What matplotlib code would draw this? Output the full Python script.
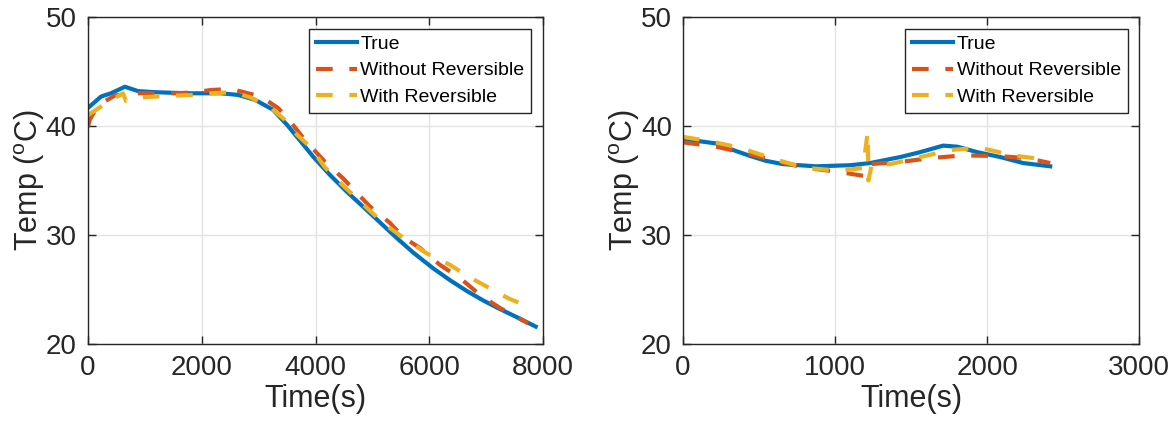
import numpy as np
import matplotlib.pyplot as plt

plt.rcParams['font.family'] = ['Liberation Sans', 'DejaVu Sans']
plt.rcParams['mathtext.fontset'] = 'custom'
plt.rcParams['mathtext.rm'] = 'Liberation Sans'

# left panel: long discharge
t1_true = [0, 230, 404, 650, 880, 1178, 1758, 2338, 2637, 2936, 3250, 3500, 3675, 3956, 4255, 4554,
           4835, 5134, 5433, 5714, 6066, 6365, 6664, 6945, 7244, 7543, 7870]
T1_true = [41.65, 42.7, 43.0, 43.6, 43.2, 43.1, 43.0, 43.0, 42.85, 42.4, 41.5, 40.1, 39.0, 37.2, 35.5, 33.95,
           32.6, 31.15, 29.7, 28.4, 26.95, 25.85, 24.85, 24.0, 23.2, 22.45, 21.6]
t1_wo = [0, 30, 176, 475, 880, 1230, 1580, 1880, 2163, 2514, 2813, 3042, 3340, 3499, 3800, 4167, 4483,
         4958, 5310, 5539, 5838, 6189, 6540, 6892, 7244, 7736]
T1_wo = [39.9, 40.55, 41.9, 42.8, 43.0, 43.0, 43.0, 43.1, 43.3, 43.4, 43.0, 42.7, 41.65, 40.8, 38.8, 36.7, 35.2,
         32.6, 31.1, 29.8, 28.8, 27.25, 26.05, 24.5, 23.3, 21.9]
t1_w = [0, 352, 615, 668, 1002, 1406, 1811, 2163, 2549, 2866, 3217, 3463, 3675, 3903, 4167, 4431, 4818,
        5187, 5609, 5960, 6365, 6716, 7068, 7385, 7807]
T1_w = [41.0, 42.2, 43.0, 42.3, 42.65, 42.75, 42.85, 43.0, 43.1, 42.6, 41.65, 40.55, 39.2, 38.1, 36.2, 34.8, 32.9,
        31.1, 29.5, 28.3, 27.25, 26.1, 25.1, 24.2, 23.3]

# right panel: short cycle
t2_true = [0, 110, 217, 329, 441, 546, 658, 875, 1099, 1230, 1428, 1559, 1711, 1803, 1934, 2086, 2237, 2414]
T2_true = [38.7, 38.6, 38.4, 37.8, 37.25, 36.8, 36.5, 36.3, 36.4, 36.6, 37.15, 37.6, 38.2, 38.1, 37.6, 37.15,
           36.6, 36.3]
t2_wo = [0, 217, 414, 638, 809, 1020, 1197, 1230, 1428, 1625, 1842, 2066, 2263, 2414]
T2_wo = [38.5, 38.1, 37.5, 36.7, 36.15, 35.8, 35.4, 36.5, 36.7, 37.05, 37.3, 37.25, 37.05, 36.6]
t2_w = [0, 178, 375, 592, 803, 1033, 1184, 1214, 1219, 1240, 1362, 1533, 1757, 1954, 2171, 2414]
T2_w = [39.0, 38.6, 38.0, 37.0, 36.15, 35.9, 36.15, 39.45, 35.0, 36.4, 36.5, 37.05, 37.8, 38.0, 37.3, 36.85]

labels = ['True', 'Without Reversible', 'With Reversible']
colors = ['#0072BD', '#D95319', '#EDB120']

fig = plt.figure(figsize=(11.76, 4.32), dpi=100)
ax1 = fig.add_axes([0.0748, 0.2037, 0.387, 0.757])
ax2 = fig.add_axes([0.5808, 0.2037, 0.388, 0.757])

panels = [(ax1, t1_true, T1_true, t1_wo, T1_wo, t1_w, T1_w, 8000, [0, 2000, 4000, 6000, 8000]),
          (ax2, t2_true, T2_true, t2_wo, T2_wo, t2_w, T2_w, 3000, [0, 1000, 2000, 3000])]

for ax, ta, ya, tb, yb, tc, yc, xmax, xt in panels:
    ax.plot(ta, ya, color=colors[0], lw=3, label=labels[0])
    ax.plot(tb, yb, color=colors[1], lw=3, ls='--', dashes=(4, 4), label=labels[1])
    ax.plot(tc, yc, color=colors[2], lw=3, ls='--', dashes=(4, 4), label=labels[2])
    ax.set_xlim(0, xmax)
    ax.set_ylim(20, 50)
    ax.set_xticks(xt)
    ax.set_yticks([20, 30, 40, 50])
    ax.grid(True, color='#e3e3e3', lw=1)
    ax.set_axisbelow(True)
    ax.tick_params(direction='in', length=6, width=1, top=True, right=True,
                   labelsize=20, colors='#262626', pad=8)
    for s in ax.spines.values():
        s.set_color('#262626')
        s.set_linewidth(1)
    ax.set_xlabel('Time(s)', fontsize=22, color='#262626', labelpad=2)
    ax.set_ylabel(r'Temp ($^{\mathrm{o}}$C)', fontsize=22, color='#262626', labelpad=-1)
    leg = ax.legend(loc='upper right', fontsize=14, frameon=True, fancybox=False,
                    handlelength=2.1, handletextpad=0.2, borderpad=0.35, labelspacing=0.45,
                    borderaxespad=0.6)
    leg.get_frame().set_edgecolor('#262626')
    leg.get_frame().set_linewidth(1)
    leg.get_frame().set_alpha(1)

plt.savefig('out.png', dpi=100)
